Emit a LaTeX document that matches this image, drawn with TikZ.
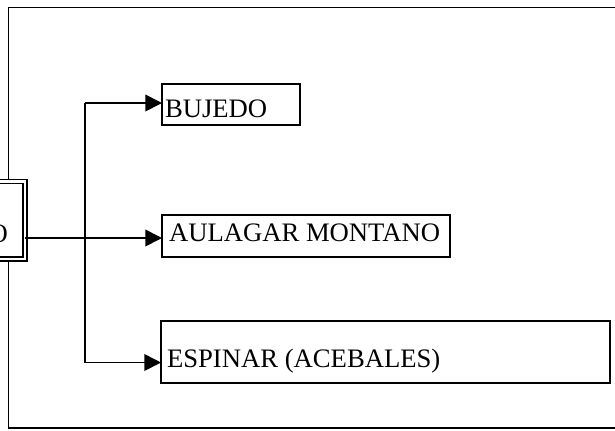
\documentclass[tikz,border=0pt]{standalone}
\usepackage{fontspec}
\setmainfont{Liberation Serif}
\usetikzlibrary{arrows.meta}
\begin{document}
\begin{tikzpicture}[x=0.75pt,y=-0.75pt,
  line width=1.3pt,
  boxstyle/.style={draw=black,fill=white,rectangle,line width=1.3pt,inner sep=0pt,outer sep=0pt,anchor=north west},
  lbl/.style={inner sep=0pt,outer sep=0pt,font=\fontsize{20}{21}\selectfont,anchor=base west},
  conn/.style={draw=black,line width=1.3pt},
  arr/.style={conn,-{Triangle[length=12.5pt,width=12.5pt]}}
]
\useasboundingbox (0,0) rectangle (615,430);
% outer frame
\node[boxstyle,minimum width=472pt,minimum height=315.4pt] (frame) at (8.5,7.5) {};
% source box (double border), mostly off the left edge
\node[draw=black,fill=white,double,double distance=1.7pt,line width=1.2pt,rectangle,
      inner sep=0pt,outer sep=0pt,minimum width=94pt,minimum height=58.1pt,anchor=north east] (src) at (25,181.5) {};
\node[inner sep=0pt,outer sep=0pt,font=\fontsize{20}{21}\selectfont,anchor=base east] (srclbl) at (8,242) {O};
% target boxes
\node[boxstyle,minimum width=103.5pt,minimum height=30.75pt] (b1) at (162,84) {};
\node[lbl] (t1) at (165,117) {BUJEDO};
\node[boxstyle,minimum width=216pt,minimum height=31.5pt] (b2) at (162,215) {};
\node[lbl] (t2) at (169,241.5) {AULAGAR MONTANO};
\node[boxstyle,minimum width=336.75pt,minimum height=46.5pt] (b3) at (161,321) {};
\node[lbl] (t3) at (167,367) {ESPINAR (ACEBALES)};
% connectors
\coordinate (ymid) at (0,238);
\coordinate (jt) at (85,103);
\coordinate (jb) at (85,362.5);
\draw[arr] (src.east |- ymid) -- (b2.west |- ymid);
\draw[conn] (jt) -- (jb);
\draw[arr] (jt) -- (b1.west |- jt);
\draw[arr] (jb) -- (b3.west |- jb);
\end{tikzpicture}
\end{document}
